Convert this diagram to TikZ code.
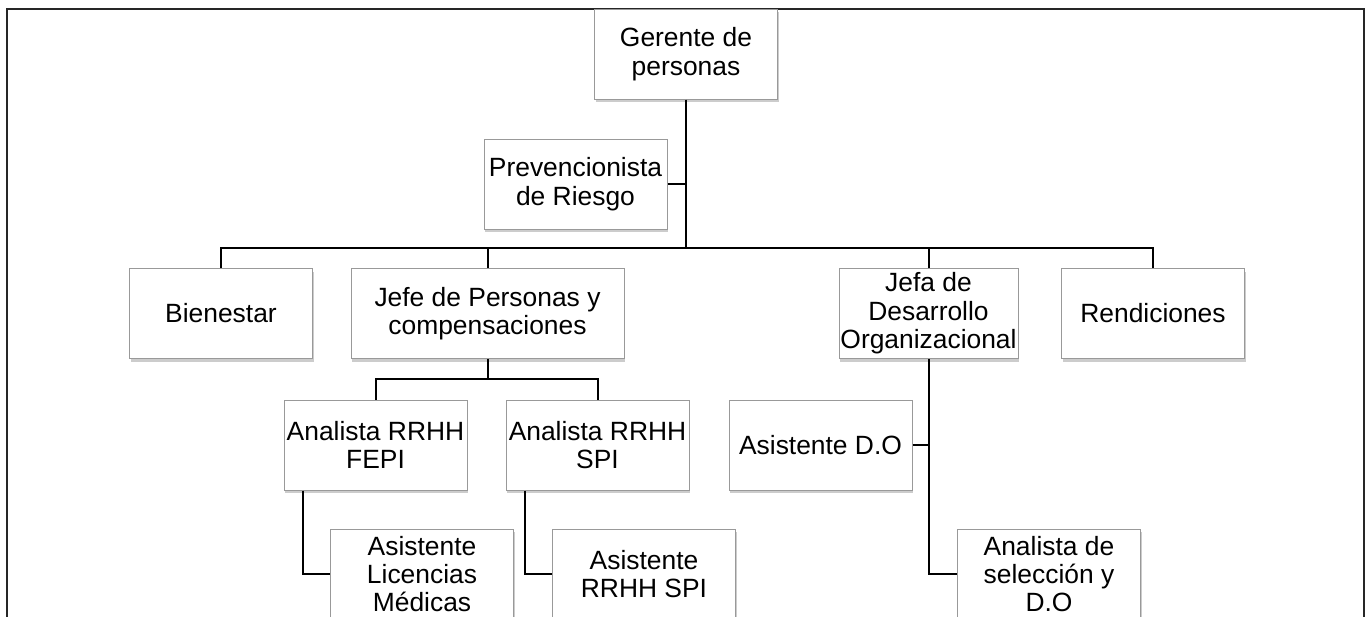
\documentclass[tikz,border=0pt]{standalone}
\usepackage{fontspec}
\setmainfont{Liberation Sans}
\usepackage{tikz}
\usetikzlibrary{shadows}

\begin{document}
\begin{tikzpicture}[x=0.5pt,y=-0.5pt,
  box/.style={draw=gray!80,line width=0.5pt,fill=white,align=center,
    inner sep=0pt,minimum width=91.5pt,minimum height=45pt,
    font=\fontsize{13.2}{14.2}\selectfont,
    drop shadow={shadow xshift=0.6pt,shadow yshift=-1.5pt,opacity=0.4}},
  link/.style={line width=1pt}]
  \clip (0,0) rectangle (1369,616);
  \draw [line width=1.2pt,black!85] (7,9) rectangle (1364,640);

  \node [box] (gerente) at (686,54) {Gerente de\\personas};
  \node [box] (prev) at (575.5,184) {Prevencionista\\de Riesgo};

  \node [box] (bien) at (221,313.5) {Bienestar};
  \node [box,minimum width=136.5pt] (jefep) at (487.5,313.5) {Jefe de Personas y\\compensaciones};
  \node [box,minimum width=89.5pt] (jefado) at (928.5,313.5) {Jefa de\\Desarrollo\\Organizacional};
  \node [box] (rend) at (1153,313.5) {Rendiciones};

  \node [box] (afepi) at (375.5,445) {Analista RRHH\\FEPI};
  \node [box] (aspi) at (597.5,445) {Analista RRHH\\SPI};
  \node [box] (asdo) at (820.5,445) {Asistente D.O};

  \node [box] (aslm) at (422,574) {Asistente\\Licencias\\Médicas};
  \node [box] (asrrhh) at (644,574) {Asistente\\RRHH SPI};
  \node [box] (anasel) at (1049,574) {Analista de\\selección y\\D.O};

  \coordinate (bus) at (686,248);
  \coordinate (bar) at (487.5,379);

  % gerente to the row below
  \draw [link] (gerente.south) -- (gerente.south |- bus);
  \draw [link] (prev.east) -- (prev.east -| gerente.south);
  \draw [link] (bien.north) -- (bien.north |- bus) -- (rend.north |- bus) -- (rend.north);
  \draw [link] (jefep.north) -- (jefep.north |- bus);
  \draw [link] (jefado.north) -- (jefado.north |- bus);

  % jefe de personas
  \draw [link] (jefep.south) -- (jefep.south |- bar);
  \draw [link] (afepi.north) -- (afepi.north |- bar) -- (aspi.north |- bar) -- (aspi.north);
  \draw [link] ([xshift=9.5pt]afepi.south west) |- (aslm.west);
  \draw [link] ([xshift=9.5pt]aspi.south west) |- (asrrhh.west);

  % jefa D.O
  \draw [link] (jefado.south) |- (anasel.west);
  \draw [link] (asdo.east) -- (asdo.east -| jefado.south);
\end{tikzpicture}
\end{document}
